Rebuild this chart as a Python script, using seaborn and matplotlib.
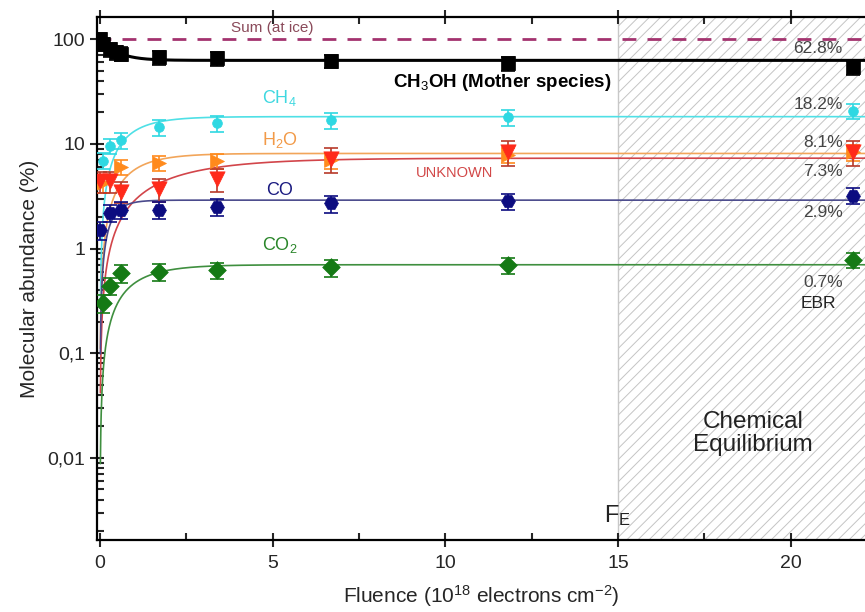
import numpy as np
import pandas as pd
import seaborn as sns
import matplotlib.pyplot as plt
from matplotlib.ticker import FixedLocator, FuncFormatter, MultipleLocator, LogLocator

# measured abundances (%) vs fluence (10^18 electrons cm^-2)
ch3oh_x = [0.0, 0.1, 0.3, 0.45, 0.6, 1.7, 3.4, 6.7, 11.8, 21.8]
ch3oh_y = [100, 90, 80, 75, 73, 67, 66, 62, 59, 54]
ch3oh_err = [14, 13, 12, 11, 11, 10, 10, 9, 9, 8]

ch4_x = [0.1, 0.3, 0.6, 1.7, 3.4, 6.7, 11.8, 21.8]
ch4_y = [6.9, 9.6, 10.8, 14.4, 15.7, 16.8, 17.9, 20.8]
ch4_err = [1.2, 1.6, 1.9, 2.5, 2.7, 2.9, 3.1, 3.5]

h2o_x = [0.1, 0.6, 1.7, 3.4, 6.7, 11.8, 21.8]
h2o_y = [4.2, 6.0, 6.6, 6.9, 7.0, 7.8, 8.3]
h2o_err = [0.8, 1.0, 1.1, 1.1, 1.2, 1.3, 1.4]

unk_x = [0.0, 0.3, 0.6, 1.7, 3.4, 6.7, 11.8, 21.8]
unk_y = [4.4, 4.4, 3.5, 3.7, 4.6, 7.2, 8.4, 8.4]
unk_err = [1.0, 1.0, 0.8, 0.9, 1.1, 1.9, 2.2, 2.2]

co_x = [0.0, 0.3, 0.6, 1.7, 3.4, 6.7, 11.8, 21.8]
co_y = [1.5, 2.2, 2.35, 2.35, 2.5, 2.7, 2.85, 3.2]
co_err = [0.3, 0.4, 0.45, 0.45, 0.45, 0.5, 0.5, 0.55]

co2_x = [0.1, 0.3, 0.6, 1.7, 3.4, 6.7, 11.8, 21.8]
co2_y = [0.30, 0.44, 0.58, 0.60, 0.62, 0.66, 0.69, 0.78]
co2_err = [0.06, 0.08, 0.11, 0.11, 0.11, 0.12, 0.12, 0.13]

# fit parameters: equilibrium abundance (%), initial abundance (%), rate
species = ["CH3OH", "CH4", "H2O", "UNKNOWN", "CO", "CO2"]
eq_values = [62.8, 18.2, 8.1, 7.3, 2.9, 0.7]
init_values = [100, 0, 0, 0, 0, 0]
rates = [2.2, 1.3, 1.2, 0.5, 3.0, 1.1]
sum_value = 100

line_colors = ["black", "#4fe0e6", "#f2a55a", "#d2454a", "#4a4a8c", "#3f8f3f"]
mark_colors = ["black", "#2fd8e2", "#ff8a1c", "#ff2a1a", "#0c0c80", "#157a15"]
err_colors = ["black", "#2fd8e2", "#ff8a1c", "#b83a2a", "#0c0c80", "#157a15"]
markers = ["s", "o", ">", "v", "H", "D"]
msizes = [10.5, 7, 10, 11, 10, 9]

points = [(ch3oh_x, ch3oh_y, ch3oh_err), (ch4_x, ch4_y, ch4_err), (h2o_x, h2o_y, h2o_err),
          (unk_x, unk_y, unk_err), (co_x, co_y, co_err), (co2_x, co2_y, co2_err)]

sns.set_theme(style="ticks")
plt.rcParams["font.family"] = ["Liberation Sans", "DejaVu Sans"]
plt.rcParams["mathtext.fontset"] = "custom"
plt.rcParams["mathtext.rm"] = "Liberation Sans"
plt.rcParams["mathtext.it"] = "Liberation Sans"
plt.rcParams["mathtext.bf"] = "Liberation Sans:bold"
plt.rcParams["hatch.linewidth"] = 0.7
plt.rcParams["hatch.color"] = "#c4c4c4"

fig = plt.figure(figsize=(8.65, 6.12), dpi=100)
ax = fig.add_axes([0.112, 0.1176, 0.888, 0.8546])

# chemical equilibrium region
ax.axvspan(15, 30, facecolor="none", hatch="///", edgecolor="#c4c4c4", lw=0, zorder=0)
ax.axvline(15, color="#c8c8c8", lw=1, zorder=0)

# fit curves
fl = np.linspace(0, 23, 2000)
fits = []
for name, eq, a0, k in zip(species, eq_values, init_values, rates):
    fits.append(pd.DataFrame({"F": fl, "A": eq + (a0 - eq) * np.exp(-k * fl), "sp": name}))
fit_df = pd.concat(fits)
fit_df = fit_df[fit_df["A"] > 0]
for i, name in enumerate(species):
    sns.lineplot(data=fit_df[fit_df["sp"] == name], x="F", y="A", color=line_colors[i],
                 lw=2.2 if i == 0 else 1.2, ax=ax, zorder=2)

ax.axhline(sum_value, color="#a3336f", ls=(0, (5, 4)), lw=2, zorder=2)

# data points with error bars
for i, (px, py, pe) in enumerate(points):
    ax.errorbar(px, py, yerr=pe, fmt="none", ecolor=err_colors[i], elinewidth=1.2,
                capsize=5, capthick=1.2, zorder=3)
    sns.scatterplot(x=px, y=py, marker=markers[i], s=msizes[i] ** 2, color=mark_colors[i],
                    edgecolor=mark_colors[i], linewidth=0.5, ax=ax, zorder=4, legend=False)

ax.set_yscale("log")
ax.set_xlim(-0.09, 22.15)
ax.set_ylim(0.00164, 163)

ax.xaxis.set_major_locator(MultipleLocator(5))
ax.xaxis.set_minor_locator(MultipleLocator(2.5))
ax.yaxis.set_major_locator(FixedLocator([0.01, 0.1, 1, 10, 100]))
ax.yaxis.set_minor_locator(LogLocator(base=10, subs=np.arange(2, 10)))
ax.yaxis.set_major_formatter(FuncFormatter(lambda v, p: ("%g" % v).replace(".", ",")))
ax.yaxis.set_minor_formatter(FuncFormatter(lambda v, p: ""))

ax.tick_params(axis="x", which="major", direction="inout", length=10, width=1.5,
               top=True, labelsize=14, pad=6)
ax.tick_params(axis="x", which="minor", direction="in", length=5, width=1.5, top=True)
ax.tick_params(axis="y", which="major", direction="inout", length=10, width=1.5, labelsize=14)
ax.tick_params(axis="y", which="minor", direction="in", length=5, width=1.5)
for s in ["left", "bottom", "top"]:
    ax.spines[s].set_linewidth(1.6)
    ax.spines[s].set_color("black")
ax.spines["right"].set_visible(False)

ax.set_xlabel(r"Fluence (10$^{18}$ electrons cm$^{-2}$)", fontsize=15, labelpad=8)
ax.set_ylabel("Molecular abundance (%)", fontsize=15, labelpad=6)

# annotations
ax.text(5.0, 128, "Sum (at ice)", fontsize=11, color="#8a4a5a", ha="center", va="center")
ax.text(11.65, 38.5, r"CH$_3$OH (Mother species)", fontsize=13.5, fontweight="bold",
        color="black", ha="center", va="center")
ax.text(5.2, 27.5, r"CH$_4$", fontsize=13, color="#3fd8e0", ha="center", va="center")
ax.text(5.2, 10.8, r"H$_2$O", fontsize=13, color="#f29a48", ha="center", va="center")
ax.text(10.26, 5.3, "UNKNOWN", fontsize=10.5, color="#d24848", ha="center", va="center")
ax.text(5.2, 3.6, "CO", fontsize=13, color="#1a1a80", ha="center", va="center")
ax.text(5.2, 1.07, r"CO$_2$", fontsize=13, color="#2a862a", ha="center", va="center")

pct_labels = ["62.8%", "18.2%", "8.1%", "7.3%", "2.9%", "0.7%"]
pct_y = [81, 24, 10.3, 5.4, 2.2, 0.47]
for lab, yy in zip(pct_labels, pct_y):
    ax.text(21.5, yy, lab, fontsize=12.5, color="#444444", ha="right", va="center")
ax.text(21.3, 0.30, "EBR", fontsize=12.5, color="#222222", ha="right", va="center")

ax.text(18.9, 0.017, "Chemical\nEquilibrium", fontsize=17.5, color="#222222",
        ha="center", va="center", linespacing=1.05)
ax.text(14.6, 0.0028, r"F$_\mathregular{E}$", fontsize=17, color="#222222",
        ha="left", va="center")

plt.savefig("out.png", dpi=100)
